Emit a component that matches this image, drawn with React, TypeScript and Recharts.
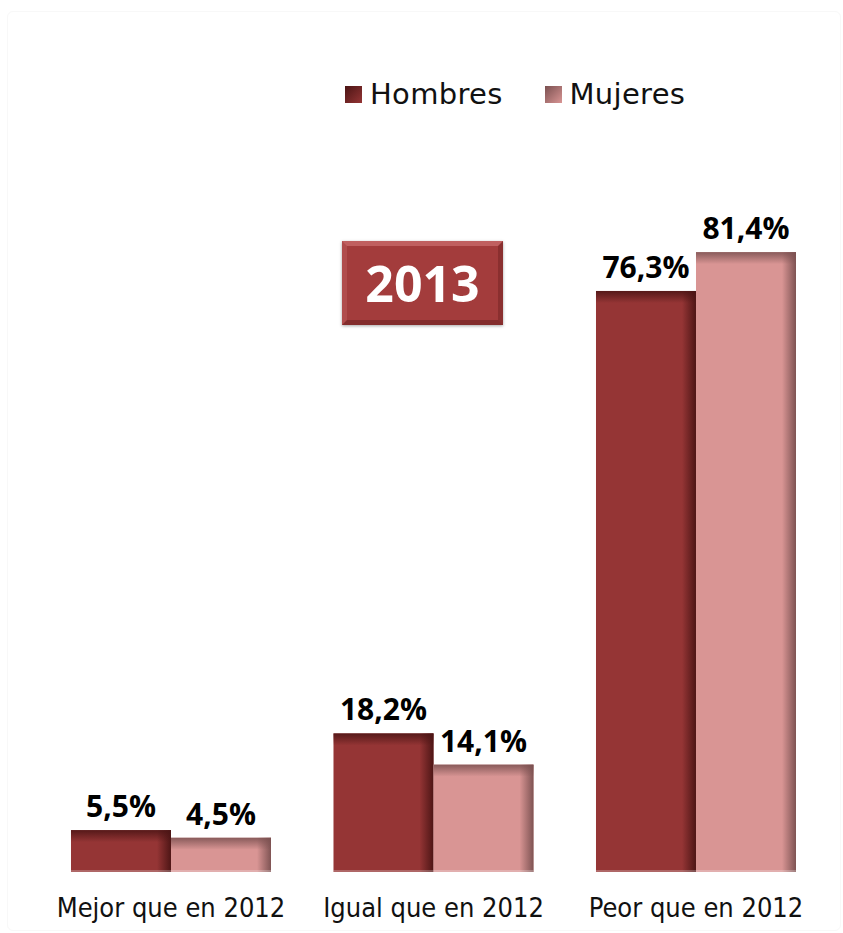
import React from "react";
import { BarChart, Bar, XAxis, YAxis, LabelList } from "recharts";

const categories = ["Mejor que en 2012", "Igual que en 2012", "Peor que en 2012"];
const hombres = [5.5, 18.2, 76.3];
const mujeres = [4.5, 14.1, 81.4];
const seriesNames = ["Hombres", "Mujeres"];
const yearLabel = "2013";

const data = categories.map((c, i) => ({ name: c, Hombres: hombres[i], Mujeres: mujeres[i] }));

const palette = {
  Hombres: { base: "#953535", edge: "#4a1414", legend: "#7a2222" },
  Mujeres: { base: "#d99594", edge: "#7a5050", legend: "#b87b7b" },
};

const fmt = (v: number) => v.toFixed(1).replace(".", ",") + "%";

const BevelBar = (props: any) => {
  const { x, y, width, height, series } = props;
  const c = (palette as any)[series];
  const id = series;
  if (!height || height <= 0) return null;
  return (
    <g>
      <rect x={x} y={y} width={width} height={height} fill={c.base} />
      <rect x={x + width - 14} y={y} width={14} height={height} fill={`url(#right-${id})`} />
      <rect x={x} y={y} width={width} height={Math.min(12, height)} fill={`url(#top-${id})`} />
      <rect x={x} y={y + height - 2} width={width} height={2} fill="#ffffff" opacity={0.25} />
    </g>
  );
};

const Tick = (props: any) => {
  const { x, payload } = props;
  return (
    <text
      x={x}
      y={917}
      textAnchor="middle"
      fill="#111"
      style={{ fontFamily: "'Liberation Sans Narrow', 'DejaVu Sans Condensed', sans-serif", fontSize: 27 }}
    >
      {payload.value}
    </text>
  );
};

const labelStyle = {
  fontFamily: "'Open Sans', sans-serif",
  fontWeight: 700,
  fontSize: 30,
  fill: "#000",
};

export default function App() {
  return (
    <div style={{ position: "absolute", left: 0, top: 0, width: 843, height: 933, background: "#fff" }}>
      <div
        style={{
          position: "absolute",
          left: 7,
          top: 11,
          width: 834,
          height: 920,
          border: "1px solid #f8f8f8",
          borderRadius: 6,
          boxSizing: "border-box",
        }}
      />
      <BarChart
        width={843}
        height={933}
        data={data}
        margin={{ top: 110.5, right: 15.75, bottom: 0, left: 39.75 }}
        barCategoryGap="11.9%"
        barGap={0}
      >
        <defs>
          {seriesNames.map((s) => (
            <React.Fragment key={s}>
              <linearGradient id={`right-${s}`} x1="0" y1="0" x2="1" y2="0">
                <stop offset="0" stopColor={(palette as any)[s].edge} stopOpacity={0} />
                <stop offset="1" stopColor={(palette as any)[s].edge} stopOpacity={0.95} />
              </linearGradient>
              <linearGradient id={`top-${s}`} x1="0" y1="0" x2="0" y2="1">
                <stop offset="0" stopColor={(palette as any)[s].edge} stopOpacity={0.85} />
                <stop offset="1" stopColor={(palette as any)[s].edge} stopOpacity={0} />
              </linearGradient>
            </React.Fragment>
          ))}
        </defs>
        <XAxis dataKey="name" axisLine={false} tickLine={false} height={61} tick={<Tick />} interval={0} />
        <YAxis hide domain={[0, 100]} />
        {seriesNames.map((s) => (
          <Bar
            key={s}
            dataKey={s}
            isAnimationActive={false}
            fill={(palette as any)[s].base}
            shape={(p: any) => <BevelBar {...p} series={s} />}
          >
            <LabelList dataKey={s} position="top" offset={13} formatter={(v: any) => fmt(Number(v))} style={labelStyle} />
          </Bar>
        ))}
      </BarChart>
      <div
        style={{
          position: "absolute",
          left: 345,
          top: 77,
          display: "flex",
          alignItems: "center",
          fontFamily: "'DejaVu Sans', sans-serif",
          fontSize: 29,
          lineHeight: "34px",
          color: "#111",
        }}
      >
        {seriesNames.map((s, i) => (
          <div key={s} style={{ display: "flex", alignItems: "center", marginRight: i === 0 ? 42 : 0 }}>
            <div
              style={{
                width: 17,
                height: 17,
                marginRight: 8,
                background: `linear-gradient(135deg, ${(palette as any)[s].edge}, ${(palette as any)[s].base})`,
              }}
            />
            <span style={{ letterSpacing: 0.3 }}>{s}</span>
          </div>
        ))}
      </div>
      <div
        style={{
          position: "absolute",
          left: 342,
          top: 241,
          width: 161,
          height: 84,
          boxSizing: "border-box",
          background: "#a33c3c",
          borderTop: "5px solid #c06060",
          borderLeft: "5px solid #b04c4c",
          borderRight: "5px solid #8a2f2f",
          borderBottom: "5px solid #832c2c",
          boxShadow: "0 1px 3px rgba(0,0,0,0.35)",
          display: "flex",
          alignItems: "center",
          justifyContent: "center",
          color: "#fff",
          fontFamily: "'Open Sans', sans-serif",
          fontWeight: 700,
          fontSize: 50,
        }}
      >
        {yearLabel}
      </div>
    </div>
  );
}
